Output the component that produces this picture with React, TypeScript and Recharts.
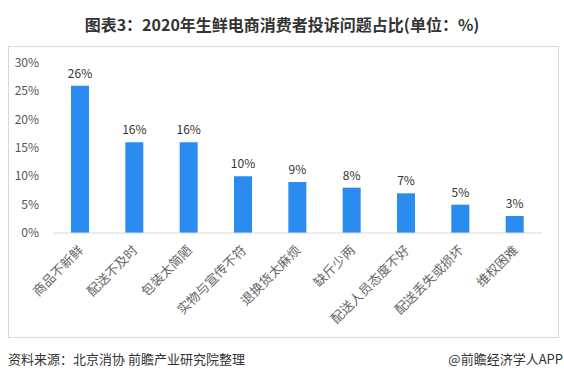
import React from "react";
import { BarChart, Bar, XAxis, YAxis, LabelList } from "recharts";

const categories = [
  "商品不新鲜",
  "配送不及时",
  "包装太简陋",
  "实物与宣传不符",
  "退换货太麻烦",
  "缺斤少两",
  "配送人员态度不好",
  "配送丢失或损坏",
  "维权困难",
];
const shares = [26, 16, 16, 10, 9, 8, 7, 5, 3];
const yTicks = [0, 5, 10, 15, 20, 25, 30];

const data = categories.map((name, i) => ({ name, value: shares[i] }));

const CJK = '"Noto Sans CJK SC", "Noto Sans", sans-serif';

const AngledTick = (props: any) => {
  const { x, y, payload } = props;
  return (
    <g transform={`translate(${x + 4},${y + 10})`}>
      <text
        x={0}
        y={0}
        transform="rotate(-45)"
        textAnchor="end"
        fill="#666"
        fontSize={13}
        fontFamily={CJK}
      >
        {payload.value}
      </text>
    </g>
  );
};

const PctTick = (props: any) => {
  const { x, y, payload } = props;
  return (
    <text
      x={x - 6}
      y={y}
      dy={4}
      textAnchor="end"
      fill="#555"
      fontSize={12}
      fontFamily={CJK}
    >
      {`${payload.value}%`}
    </text>
  );
};

const App: React.FC = () => {
  return (
    <div
      style={{
        position: "absolute",
        left: 0,
        top: 0,
        width: 564,
        height: 380,
        background: "#fff",
        fontFamily: CJK,
      }}
    >
      <div
        style={{
          position: "absolute",
          top: 12,
          left: 0,
          width: 564,
          textAlign: "center",
          fontSize: 16,
          fontWeight: "bold",
          color: "#333",
        }}
      >
        图表3：2020年生鲜电商消费者投诉问题占比(单位：%)
      </div>
      <div
        style={{
          position: "absolute",
          left: 8,
          top: 46,
          width: 549,
          height: 290,
          border: "1px solid #d9d9d9",
        }}
      >
        <BarChart
          width={549}
          height={290}
          data={data}
          margin={{ top: 16, right: 16, left: 0, bottom: 0 }}
        >
          <XAxis
            dataKey="name"
            interval={0}
            height={104}
            tickLine={false}
            axisLine={{ stroke: "#d9d9d9" }}
            tick={<AngledTick />}
          />
          <YAxis
            width={44}
            domain={[0, 30]}
            ticks={yTicks}
            axisLine={false}
            tickLine={false}
            tick={<PctTick />}
          />
          <Bar dataKey="value" fill="#2b8cf0" barSize={18} isAnimationActive={false}>
            <LabelList
              dataKey="value"
              position="top"
              offset={8}
              formatter={(v: number) => `${v}%`}
              style={{ fill: "#333", fontSize: 12, fontFamily: CJK }}
            />
          </Bar>
        </BarChart>
      </div>
      <div
        style={{
          position: "absolute",
          left: 8,
          top: 349,
          fontSize: 13,
          color: "#333",
        }}
      >
        资料来源：北京消协 前瞻产业研究院整理
      </div>
      <div
        style={{
          position: "absolute",
          right: 1,
          top: 349,
          fontSize: 13,
          color: "#333",
        }}
      >
        @前瞻经济学人APP
      </div>
    </div>
  );
};

export default App;
